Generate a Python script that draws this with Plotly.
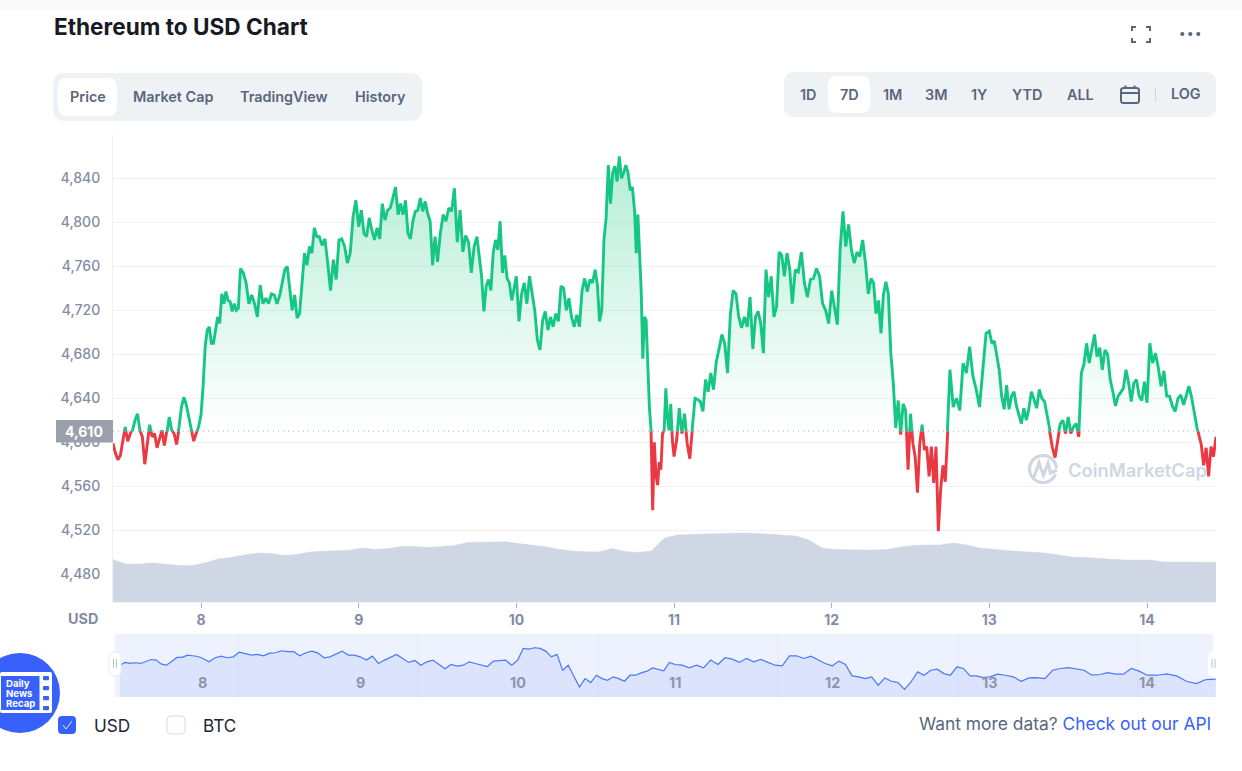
import numpy as np
import pandas as pd
import plotly.graph_objects as go

W, H = 1242, 771
FONT = "Inter"

# prices, one list per 6 hours so that the spikes stay in place
price_nov07 = [4599, 4590, 4584, 4588, 4601, 4614, 4601, 4607, 4611, 4620, 4626, 4611, 4605, 4580, 4602, 4616, 4605, 4608,
               4595, 4602, 4611, 4597, 4608, 4623, 4611, 4608, 4598, 4614, 4632, 4641, 4634, 4623, 4610, 4601, 4608, 4614]
price_nov08 = [
    [4625, 4651, 4687, 4702, 4705, 4690, 4690, 4704, 4714, 4708, 4735, 4726, 4737, 4729, 4728, 4719, 4726, 4720, 4722],
    [4758, 4754, 4745, 4726, 4734, 4726, 4714, 4743, 4726, 4731, 4726, 4735, 4734, 4726],
    [4734, 4745, 4757, 4760, 4738, 4720, 4734, 4713, 4717, 4748, 4772, 4761, 4778, 4772, 4795, 4787],
    [4787, 4779, 4785, 4763, 4738, 4766, 4748, 4784, 4785, 4778, 4763, 4772, 4805, 4820],
]
price_nov09 = [
    [4796, 4811, 4790, 4787, 4804, 4793, 4784, 4795, 4785, 4817, 4802, 4811, 4813, 4822, 4832],
    [4807, 4817, 4807, 4820, 4790, 4785, 4801, 4810, 4811, 4822, 4810, 4819, 4808, 4801, 4761, 4787],
    [4764, 4790, 4807, 4801, 4813, 4810, 4831, 4782, 4811, 4773, 4788, 4782, 4754, 4778],
    [4787, 4766, 4751, 4719, 4742, 4748, 4738, 4772, 4784, 4775, 4801, 4754, 4770, 4749, 4745, 4729, 4742],
]
price_nov10 = [
    [4751, 4710, 4735, 4745, 4726, 4751, 4735, 4720, 4693, 4684, 4711, 4719, 4702, 4714, 4705],
    [4717, 4710, 4742, 4740, 4720, 4731, 4714, 4705, 4716, 4705, 4738, 4749, 4737, 4748, 4745],
    [4757, 4743, 4710, 4720, 4784, 4804, 4852, 4817, 4845, 4851, 4837, 4860, 4840, 4845, 4852, 4845, 4829, 4832],
    [4810, 4772, 4807, 4769, 4738, 4676, 4714, 4711, 4663, 4632, 4611, 4538, 4600, 4570, 4561, 4582, 4575, 4608, 4611,
     4649, 4623, 4611, 4635, 4602],
]
price_nov11 = [
    [4587, 4602, 4631, 4608, 4626, 4599, 4585, 4614, 4640, 4639, 4637, 4628, 4657, 4646, 4663],
    [4648, 4673, 4685, 4698, 4690, 4663, 4716, 4738, 4735, 4714, 4704, 4714, 4705, 4732],
    [4685, 4714, 4719, 4708, 4681, 4757, 4732, 4751, 4714, 4723, 4773, 4770, 4751, 4772, 4758],
    [4726, 4757, 4755, 4773, 4745, 4732, 4748, 4749, 4758, 4751, 4726, 4720, 4708],
]
price_nov12 = [
    [4738, 4723, 4707, 4775, 4810, 4778, 4798, 4775, 4763, 4773, 4769, 4784, 4763, 4735],
    [4749, 4745, 4717, 4729, 4699, 4734, 4746, 4735, 4681, 4654, 4613, 4638, 4607, 4635, 4629, 4575],
    [4626, 4599, 4587, 4554, 4599, 4616, 4593, 4596, 4569, 4596, 4563, 4596, 4519, 4557, 4579, 4564, 4608],
    [4666, 4632, 4640, 4629, 4672, 4663, 4687, 4660, 4648, 4632, 4663, 4699],
]
price_nov13 = [
    [4701, 4690, 4692, 4678, 4666, 4642, 4630, 4652, 4630, 4642, 4646, 4633, 4625, 4617, 4631, 4620],
    [4630, 4646, 4639, 4631, 4648, 4640, 4637, 4623, 4608, 4595, 4586, 4605, 4617, 4620, 4608],
    [4623, 4608, 4614, 4617, 4605, 4663, 4671, 4690, 4672, 4687, 4698, 4678, 4686, 4666, 4684],
    [4680, 4657, 4646, 4633, 4642, 4645, 4649, 4666, 4654, 4637, 4654, 4657, 4642, 4638, 4655],
]
price_nov14 = [
    [4636, 4690, 4672, 4681, 4668, 4651, 4665, 4642, 4642, 4633, 4628, 4640, 4643, 4634],
    [4643, 4651, 4642, 4630, 4617, 4607, 4598, 4579, 4595, 4569, 4596, 4587, 4605],
]

volume_bn = [21.2, 19, 19, 19.5, 18.9, 18.3, 18.3, 19.5, 21.5, 22.3, 23.5, 24.5, 24.3, 23.2, 23.8, 25, 25.4, 25.6, 25.9,
             27, 26.3, 26.8, 27.8, 27.8, 27.3, 27.8, 28.3, 29.8, 29.9, 30.1, 30.1, 29.1, 28.3, 27.6, 26.3, 25.5, 25.1, 25,
             26.7, 25.2, 24.8, 25.5, 32, 33.5, 33.8, 34, 34.3, 34.5, 34.5, 34.3, 33.8, 33.5, 33, 31, 27, 26.3, 26, 26, 26,
             26.3, 27.5, 28.3, 28.5, 28.5, 29.5, 28.5, 27, 26.3, 25.8, 25.3, 25, 24.5, 23.5, 22.5, 22.3, 21.8, 21.3, 21,
             21, 21, 20, 19.9, 20, 20, 19.9]

# navigator line under the chart, one list per day
mini_days = [
    [4704, 4728, 4719, 4725, 4719, 4733, 4753, 4748, 4713, 4704, 4739, 4771, 4771, 4791, 4785, 4779],
    [4762, 4733, 4768, 4782, 4768, 4776, 4817, 4805, 4791, 4797, 4785, 4808, 4811, 4828, 4820, 4820, 4785, 4811, 4825,
     4808, 4768, 4776, 4800, 4825, 4791, 4791],
    [4776, 4748, 4782, 4719, 4748, 4776, 4797, 4762, 4728, 4745, 4704, 4733, 4748, 4710, 4673, 4710, 4696, 4704, 4733,
     4719, 4704, 4693, 4739, 4745, 4748, 4704],
    [4748, 4848, 4843, 4854, 4848, 4825, 4776, 4797, 4661, 4704, 4604, 4517, 4589, 4555, 4618, 4589, 4575, 4604, 4589,
     4566, 4618, 4618, 4638, 4653, 4681, 4670, 4656, 4728],
    [4710, 4704, 4681, 4704, 4681, 4748, 4710, 4768, 4756, 4728, 4762, 4733, 4753, 4728, 4704, 4699, 4785, 4785, 4762,
     4782, 4748, 4719],
    [4699, 4739, 4710, 4612, 4604, 4589, 4604, 4532, 4595, 4566, 4555, 4497, 4560, 4647, 4618, 4661, 4670, 4632, 4618,
     4690, 4676, 4612, 4612, 4598],
    [4604, 4627, 4618, 4604, 4566, 4595, 4598, 4589, 4661, 4676, 4684, 4670, 4661, 4618, 4624, 4641, 4627, 4627, 4676,
     4653],
    [4618, 4618, 4630, 4612, 4566, 4546, 4581, 4584],
]

last_price = 4610
day_ticks = ["2021-11-08", "2021-11-09", "2021-11-10", "2021-11-11", "2021-11-12", "2021-11-13", "2021-11-14"]
y_ticks = [4480, 4520, 4560, 4600, 4640, 4680, 4720, 4760, 4800, 4840]

start = pd.Timestamp("2021-11-07 10:36")
end = pd.Timestamp("2021-11-14 10:30")
mini_start = pd.Timestamp("2021-11-07 11:20")
mini_left = "2021-11-07 10:35"
mini_right = "2021-11-14 10:31"

y_low, y_high = 4454.5, 4880.3
vol_top = 234

GREEN = "#16c784"
RED = "#ea3943"
SLATE = "#58667e"
GREY = "#858ca2"
GRID = "#eff2f5"
BLUE = "#3861fb"
WATERMARK = "#cfd6e4"


def fx(x):
    return x / W


def fy(y):
    return 1 - y / H


def segment_times(segments, t0, t1):
    # every list runs evenly from its own start to the next boundary
    bounds = [t0]
    t = pd.Timestamp("2021-11-08")
    while t < t1:
        bounds.append(t)
        t += pd.Timedelta(hours=6)
    bounds.append(t1)
    times = []
    for i, vals in enumerate(segments):
        if i == len(segments) - 1:
            times.extend(pd.date_range(bounds[i], bounds[i + 1], periods=len(vals)))
        else:
            times.extend(pd.date_range(bounds[i], bounds[i + 1], periods=len(vals) + 1)[:-1])
    return times


segments = [price_nov07] + price_nov08 + price_nov09 + price_nov10 + price_nov11 + price_nov12 + price_nov13 + price_nov14
price = [v for seg in segments for v in seg]
price_x = segment_times(segments, start, end)

mini_price = []
mini_x = []
mini_bounds = [mini_start] + [pd.Timestamp(d) for d in day_ticks] + [end]
for i, vals in enumerate(mini_days):
    last = i == len(mini_days) - 1
    stamps = pd.date_range(mini_bounds[i], mini_bounds[i + 1], periods=len(vals) + (0 if last else 1))
    mini_x.extend(stamps if last else stamps[:-1])
    mini_price.extend(vals)

vol_x = pd.date_range(start, end, periods=len(volume_bn))

# the baseline splits the plot into an upper (green) and a lower (red) clipped axis
base_py = 178.3 + (4840 - last_price) * 1.1

fig = go.Figure()
fig.add_trace(go.Scatter(x=[start, end], y=[last_price, last_price], mode="lines", xaxis="x", yaxis="y",
                         line=dict(color="#a6b0c3", width=1, dash="1px,4px")))
fig.add_trace(go.Scatter(x=vol_x, y=volume_bn, mode="lines", xaxis="x", yaxis="y4", fill="tozeroy",
                         fillcolor=WATERMARK, line=dict(color=WATERMARK, width=0.5)))
fig.add_trace(go.Scatter(x=price_x, y=price, mode="lines", xaxis="x", yaxis="y2", fill="tozeroy",
                         fillgradient=dict(type="vertical", start=last_price, stop=4860,
                                           colorscale=[[0, "rgba(22,199,132,0)"], [1, "rgba(22,199,132,0.32)"]]),
                         line=dict(color=GREEN, width=2.9)))
fig.add_trace(go.Scatter(x=price_x, y=price, mode="lines", xaxis="x", yaxis="y3",
                         line=dict(color=RED, width=2.9)))
fig.add_trace(go.Scatter(x=mini_x, y=mini_price, mode="lines", xaxis="x2", yaxis="y5", fill="tozeroy",
                         fillcolor="#dbe3fd", line=dict(color="#4a78ff", width=1.2)))

hidden = dict(visible=False, showgrid=False, zeroline=False)
fig.update_layout(
    width=W, height=H, margin=dict(l=0, r=0, t=0, b=0), template="none",
    paper_bgcolor="white", plot_bgcolor="rgba(0,0,0,0)", showlegend=False, hovermode=False,
    font=dict(family=FONT),
    xaxis=dict(domain=[fx(113), fx(1216)], range=[start, end], anchor="y", type="date", tick0="2021-11-08",
               dtick=86400000, tickformat="%-d", showgrid=False, zeroline=False, showline=True, linecolor=GRID,
               ticks="outside", ticklen=5, tickcolor="#a6b0c3", tickwidth=1,
               tickfont=dict(family=FONT, size=14, color=GREY, weight=700)),
    yaxis=dict(domain=[fy(602), fy(134)], range=[y_low, y_high], tickvals=y_ticks, tickformat=",d", showgrid=True,
               gridcolor=GRID, gridwidth=1, zeroline=False, showline=True, linecolor=GRID, ticks="",
               ticklabelstandoff=9, tickfont=dict(family=FONT, size=14, color=GREY, weight=500)),
    yaxis2=dict(domain=[fy(base_py), fy(134)], range=[last_price, y_high], anchor="x", **hidden),
    yaxis3=dict(domain=[fy(602), fy(base_py)], range=[y_low, last_price], anchor="x", **hidden),
    yaxis4=dict(overlaying="y", range=[0, vol_top], anchor="x", **hidden),
    xaxis2=dict(domain=[fx(115), fx(1216)], range=[mini_left, mini_right], anchor="y5", type="date", **hidden),
    yaxis5=dict(domain=[fy(697), fy(634)], range=[4431, 4972], anchor="x2", **hidden),
)


def rrect(x0, y0, x1, y1, r):
    return (f"M{fx(x0 + r)},{fy(y0)} L{fx(x1 - r)},{fy(y0)} Q{fx(x1)},{fy(y0)} {fx(x1)},{fy(y0 + r)} "
            f"L{fx(x1)},{fy(y1 - r)} Q{fx(x1)},{fy(y1)} {fx(x1 - r)},{fy(y1)} L{fx(x0 + r)},{fy(y1)} "
            f"Q{fx(x0)},{fy(y1)} {fx(x0)},{fy(y1 - r)} L{fx(x0)},{fy(y0 + r)} Q{fx(x0)},{fy(y0)} {fx(x0 + r)},{fy(y0)} Z")


def poly(points):
    return "M" + " L".join(f"{fx(a)},{fy(b)}" for a, b in points)


shapes = []


def box(x0, y0, x1, y1, r=0, fill="white", line=None, width=1, layer="above"):
    shapes.append(dict(type="path", path=rrect(x0, y0, x1, y1, r), xref="paper", yref="paper", layer=layer,
                       fillcolor=fill, line=dict(color=line or "rgba(0,0,0,0)", width=width if line else 0)))


def stroke(points, color=SLATE, width=2, layer="above"):
    shapes.append(dict(type="path", path=poly(points), xref="paper", yref="paper", layer=layer,
                       line=dict(color=color, width=width)))


def dot(cx, cy, r, color):
    shapes.append(dict(type="circle", xref="paper", yref="paper", x0=fx(cx - r), x1=fx(cx + r), y0=fy(cy + r),
                       y1=fy(cy - r), fillcolor=color, line=dict(width=0)))


annots = []


def label(text, x, y, size=14.4, color=SLATE, weight=600, anchor="center", family=FONT):
    annots.append(dict(text=text, x=fx(x), y=fy(y), xref="paper", yref="paper", showarrow=False, xanchor=anchor,
                       yanchor="middle", borderpad=0, font=dict(family=family, size=size, color=color, weight=weight)))


# page chrome
box(0, 0, W, 10, fill="#fafafa", layer="below")
label("Ethereum to USD Chart", 53, 27, size=22.6, color="#171924", weight=700, anchor="left")

box(53, 73, 422, 121, r=12, fill=GRID, layer="below")
box(58, 78, 117, 116, r=9, layer="below")
for txt, cx in zip(["Price", "Market Cap", "TradingView", "History"], [88, 173, 284, 380]):
    label(txt, cx, 96.5)

box(784, 72, 1216, 117, r=11, fill=GRID, layer="below")
box(828, 76, 870, 113, r=9, layer="below")
for txt, cx in zip(["1D", "7D", "1M", "3M", "1Y", "YTD", "ALL"], [808, 849, 892, 936, 979, 1027, 1080]):
    label(txt, cx, 94.5)
label("LOG", 1186, 93.5)
stroke([(1155.5, 87), (1155.5, 102)], color=WATERMARK, width=1)

# calendar
box(1121, 88, 1139, 103, r=2.5, fill="rgba(0,0,0,0)", line=SLATE, width=2)
stroke([(1121, 93), (1139, 93)])
stroke([(1125.5, 85.5), (1125.5, 89)])
stroke([(1134.5, 85.5), (1134.5, 89)])

# fullscreen and menu
stroke([(1132, 31), (1132, 27), (1136, 27)])
stroke([(1146, 27), (1150, 27), (1150, 31)])
stroke([(1132, 38), (1132, 42), (1136, 42)])
stroke([(1146, 42), (1150, 42), (1150, 38)])
for cx in [1182.3, 1190.3, 1198.3]:
    dot(cx, 34, 2.1, SLATE)

# current price tag
box(56, 420, 113, 442.5, fill="#9a9fac")
label(f"{last_price:,}", 84, 431, size=14, color="white", weight=700)
label("USD", 83, 618, size=14.4, color=GREY, weight=700)

# watermark
theta = np.linspace(0.12 * np.pi, 1.98 * np.pi, 60)
stroke([(1043 + 13.5 * np.cos(a), 469 + 13.5 * np.sin(a)) for a in theta], color=WATERMARK, width=3.2)
stroke([(1034, 477), (1039, 463), (1043.5, 475), (1048, 463), (1050.5, 473), (1057, 470)], color=WATERMARK, width=3.2)
label("CoinMarketCap", 1067, 470, size=18.4, color=WATERMARK, weight=600, anchor="left")

# navigator
box(115, 634, 1213, 697, fill="#eef2fe", layer="below")
for sep in [238, 418, 598, 778, 958, 1138]:
    stroke([(sep, 634), (sep, 697)], color="rgba(56,97,251,0.07)", width=1)
for tick in day_ticks:
    annots.append(dict(text=str(pd.Timestamp(tick).day), x=tick, y=fy(682.5), xref="x2", yref="paper", showarrow=False,
                       yanchor="middle", font=dict(family=FONT, size=14.4, color="#8e95ab", weight=700)))
box(109, 652, 121, 676, r=5, line="#e6e9f2", width=1)
stroke([(113.5, 659), (113.5, 668)], color="#b8bfcf", width=1)
stroke([(116.5, 659), (116.5, 668)], color="#b8bfcf", width=1)
box(1208, 652, 1216, 676, r=4)
stroke([(1212, 659), (1212, 668)], color="#b8bfcf", width=1)
stroke([(1215, 659), (1215, 668)], color="#b8bfcf", width=1)

# news badge
dot(20, 693, 40, BLUE)
box(0, 672, 52, 713, r=2)
box(1, 676, 39.5, 710, fill=BLUE)
for top in [676, 686, 696, 706]:
    box(43, top, 49, top + 4.2, r=1, fill=BLUE)
for txt, ly in zip(["Daily", "News", "Recap"], [683, 693, 703]):
    label(txt, 5, ly, size=9.6, color="white", weight=700, anchor="left")

# legend checkboxes
box(58, 716, 76, 734, r=4, fill=BLUE)
stroke([(63, 725), (66, 729), (72, 721)], color="white", width=0.8)
box(167, 716, 185, 734, r=4, line="#d5dbe8", width=1)
label("USD", 93, 725, size=17.2, color="#222531", weight=400, anchor="left")
label("BTC", 202, 725, size=17.2, color="#222531", weight=400, anchor="left")

label(f'Want more data? <span style="color:{BLUE}">Check out our API</span>', 1212, 723.5, size=17.4, color=SLATE,
      weight=400, anchor="right")

fig.update_layout(shapes=shapes, annotations=annots)

fig.write_html("out.html", config={"displayModeBar": False},
               post_script="document.body.style.margin='0';document.body.style.overflow='hidden';")
